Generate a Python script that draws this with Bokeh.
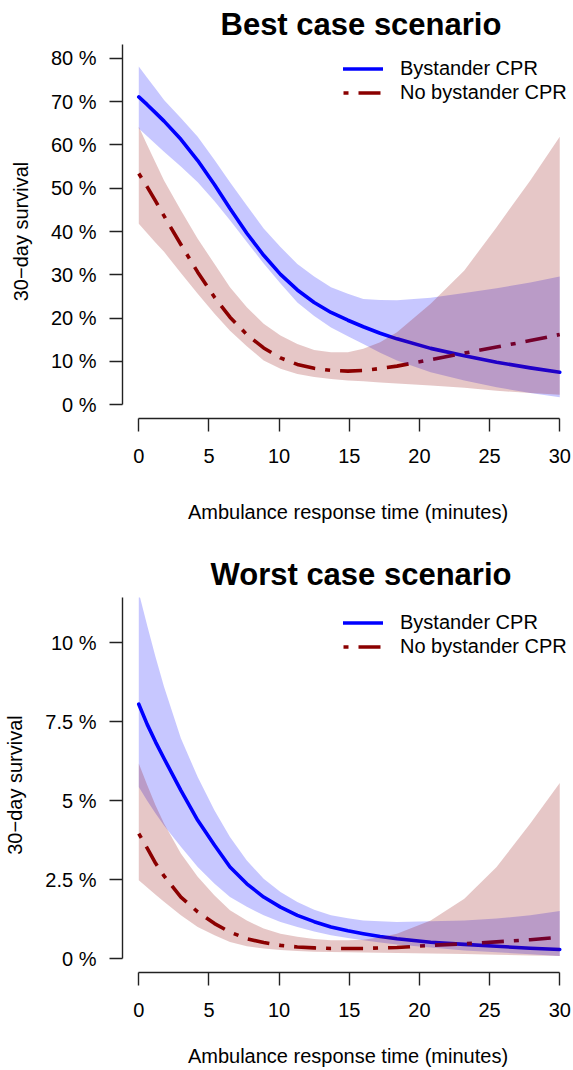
from bokeh.plotting import figure
from bokeh.layouts import column
from bokeh.models import FixedTicker, CustomJSTickFormatter, Range1d, Title
from bokeh.embed import file_html
from bokeh.resources import INLINE

FONT = "Liberation Sans"

# ---------------- data (30-day survival, %) ----------------
time_min = [0, 0.6, 1.2, 1.8, 3, 4.2, 5.4, 6.5, 7.7, 8.9, 10.1, 11.3, 12.5, 13.7, 14.9, 16,
            17.2, 18.4, 20.8, 23.2, 25.5, 27.9, 30]

# Best case scenario
best_cpr = [71.1, 69.3, 67.4, 65.5, 61.3, 56.4, 50.8, 45.3, 39.6, 34.5, 30.1, 26.5, 23.6,
            21.3, 19.5, 18.0, 16.5, 15.2, 13.0, 11.3, 9.8, 8.5, 7.5]
best_cpr_hi = [78.1, 75.5, 73.0, 70.4, 66.2, 61.9, 56.5, 51.4, 46.0, 40.7, 36.4, 32.5,
               29.6, 27.1, 25.6, 24.4, 24.2, 24.1, 24.7, 25.8, 26.9, 28.2, 29.6]
best_cpr_lo = [63.8, 62.0, 60.2, 58.4, 55.0, 51.4, 47.0, 42.6, 37.6, 32.6, 28.0, 23.6,
               20.5, 17.8, 15.8, 14.0, 12.0, 10.2, 7.5, 5.6, 4.0, 2.7, 1.7]
best_nocpr = [53.4, 50.3, 47.0, 43.6, 37.0, 30.6, 24.8, 20.2, 16.2, 13.1, 10.8, 9.3, 8.4,
              7.9, 7.75, 7.9, 8.35, 8.9, 10.4, 11.9, 13.3, 14.8, 16.2]
best_nocpr_hi = [64.2, 60.0, 55.9, 51.8, 44.9, 38.3, 32.5, 27.1, 22.5, 18.7, 16.0, 14.0,
                 12.6, 12.1, 12.1, 12.9, 14.4, 16.7, 23.3, 31.0, 41.0, 51.8, 61.9]
best_nocpr_lo = [41.8, 39.6, 37.4, 35.3, 30.4, 25.6, 21.0, 17.1, 13.5, 10.2, 8.3, 7.1,
                 6.4, 5.9, 5.6, 5.4, 5.1, 4.9, 4.4, 3.9, 3.2, 2.7, 2.3]

# Worst case scenario
worst_cpr = [8.06, 7.42, 6.86, 6.34, 5.33, 4.38, 3.59, 2.90, 2.37, 1.95, 1.63, 1.37, 1.17,
             1.00, 0.88, 0.79, 0.70, 0.63, 0.52, 0.45, 0.39, 0.33, 0.29]
worst_cpr_hi = [11.6, 10.55, 9.55, 8.61, 6.98, 5.75, 4.69, 3.85, 3.11, 2.53, 2.11, 1.79,
                1.55, 1.37, 1.28, 1.21, 1.18, 1.16, 1.18, 1.21, 1.27, 1.37, 1.51]
worst_cpr_lo = [5.44, 5.0, 4.6, 4.22, 3.54, 2.90, 2.37, 1.95, 1.64, 1.37, 1.16, 1.00,
                0.86, 0.74, 0.65, 0.58, 0.51, 0.45, 0.35, 0.26, 0.20, 0.14, 0.08]
worst_nocpr = [3.96, 3.5, 3.02, 2.62, 1.95, 1.48, 1.11, 0.84, 0.63, 0.51, 0.42, 0.37,
               0.34, 0.32, 0.32, 0.32, 0.34, 0.35, 0.42, 0.47, 0.53, 0.60, 0.68]
worst_nocpr_hi = [6.18, 5.5, 4.85, 4.28, 3.33, 2.59, 2.00, 1.53, 1.21, 0.95, 0.79, 0.69,
                  0.62, 0.58, 0.58, 0.60, 0.68, 0.79, 1.21, 1.90, 2.90, 4.28, 5.56]
worst_nocpr_lo = [2.48, 2.25, 2.02, 1.80, 1.37, 1.00, 0.74, 0.53, 0.39, 0.32, 0.27, 0.24,
                  0.22, 0.21, 0.20, 0.19, 0.185, 0.18, 0.16, 0.15, 0.12, 0.10, 0.08]

x_ticks = [0, 5, 10, 15, 20, 25, 30]
best_y_ticks = [0, 10, 20, 30, 40, 50, 60, 70, 80]
worst_y_ticks = [0, 2.5, 5, 7.5, 10]

titles = ["Best case scenario", "Worst case scenario"]
series_names = ["Bystander CPR", "No bystander CPR"]
x_title = "Ambulance response time (minutes)"
y_title = "30\u2212day survival"

BLUE = "#0000FF"
DARKRED = "#8B0000"


def make_panel(title, y_max, y_ticks, cpr, cpr_lo, cpr_hi, no, no_lo, no_hi,
               height, b_top, b_bottom, xlab_standoff, title_offset, title_standoff,
               legend_y):
    p = figure(width=573, height=height,
               x_range=Range1d(-1.16, 30.98),
               y_range=Range1d(-0.04 * y_max, 1.04 * y_max),
               output_backend="svg", toolbar_location=None,
               min_border_left=122, min_border_right=0,
               min_border_top=b_top, min_border_bottom=b_bottom)
    p.grid.visible = False
    p.outline_line_color = None
    p.background_fill_color = "white"
    p.border_fill_color = "white"

    p.line(time_min, cpr, line_color=BLUE, line_width=3.6, line_cap="round",
           line_join="round", legend_label=series_names[0])
    p.line(time_min, no, line_color=DARKRED, line_width=3.6, line_join="round",
           line_dash="5 10 22 10", legend_label=series_names[1])
    p.varea(x=time_min, y1=cpr_lo, y2=cpr_hi, fill_color=BLUE, fill_alpha=0.22)
    p.varea(x=time_min, y1=no_lo, y2=no_hi, fill_color=DARKRED, fill_alpha=0.22)

    for ax in (p.xaxis[0], p.yaxis[0]):
        ax.major_tick_out = 13
        ax.major_tick_in = 0
        ax.minor_tick_line_color = None
        ax.axis_line_color = "#222222"
        ax.axis_line_width = 1.4
        ax.major_tick_line_color = "#222222"
        ax.major_tick_line_width = 1.4
        ax.major_label_text_font = FONT
        ax.major_label_text_font_size = "20px"
        ax.major_label_text_color = "black"
        ax.axis_label_text_font = FONT
        ax.axis_label_text_font_size = "20px"
        ax.axis_label_text_font_style = "normal"
        ax.axis_label_text_color = "black"

    xa = p.xaxis[0]
    xa.ticker = FixedTicker(ticks=x_ticks)
    xa.bounds = (0, 30)
    xa.major_label_standoff = 17
    xa.axis_label = x_title
    xa.axis_label_standoff = xlab_standoff

    ya = p.yaxis[0]
    ya.ticker = FixedTicker(ticks=y_ticks)
    ya.bounds = (0, 1.04 * y_max)
    ya.formatter = CustomJSTickFormatter(code="return tick + ' %';")
    ya.major_label_standoff = 13
    ya.axis_label = y_title
    ya.axis_label_standoff = 16

    p.add_layout(Title(text=title, align="left", offset=title_offset,
                       standoff=title_standoff, vertical_align="bottom",
                       text_font=FONT, text_font_size="31px", text_font_style="bold",
                       text_color="black"), "above")

    lg = p.legend[0]
    lg.location = (221, legend_y)
    lg.padding = 0
    lg.margin = 0
    lg.spacing = 1
    lg.border_line_color = None
    lg.background_fill_alpha = 0
    lg.glyph_width = 40
    lg.glyph_height = 23
    lg.label_height = 23
    lg.label_standoff = 17
    lg.label_text_font = FONT
    lg.label_text_font_size = "20px"
    lg.label_text_color = "black"
    return p


p1 = make_panel(titles[0], 80, best_y_ticks, best_cpr, best_cpr_lo, best_cpr_hi,
                best_nocpr, best_nocpr_lo, best_nocpr_hi,
                height=545, b_top=44, b_bottom=127, xlab_standoff=35,
                title_offset=98, title_standoff=5, legend_y=314)
p2 = make_panel(titles[1], 11, worst_y_ticks, worst_cpr, worst_cpr_lo, worst_cpr_hi,
                worst_nocpr, worst_nocpr_lo, worst_nocpr_hi,
                height=525, b_top=52, b_bottom=98, xlab_standoff=25,
                title_offset=88, title_standoff=12, legend_y=314)

layout = column(p1, p2, spacing=0)
open("out.html", "w").write(file_html(layout, INLINE))
